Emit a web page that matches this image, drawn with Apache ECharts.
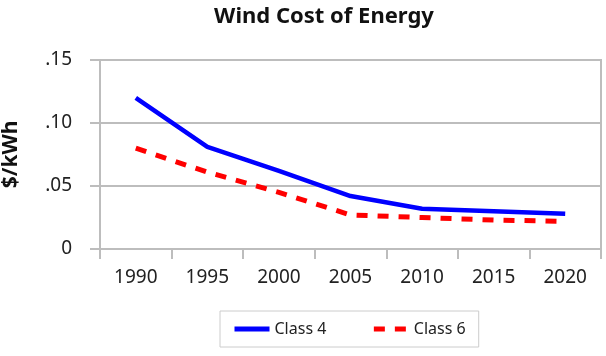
<!DOCTYPE html>
<html><head><meta charset="utf-8">
<script src="https://cdn.jsdelivr.net/npm/echarts@6/dist/echarts.min.js"></script>
<style>html,body{margin:0;padding:0;background:#fff}#c{width:606px;height:356px}</style>
</head><body><div id="c"></div>
<script>
const years = ['1990','1995','2000','2005','2010','2015','2020'];
const class4 = [0.120, 0.081, 0.062, 0.042, 0.032, 0.030, 0.028];
const class6 = [0.080, 0.061, 0.045, 0.027, 0.025, 0.023, 0.022];
const yTickLabels = {0:'0', 0.05:'.05', 0.1:'.10', 0.15:'.15'};

const chart = echarts.init(document.getElementById('c'));
const font = '"Noto Sans", "Open Sans", sans-serif';
const gray = '#bdbdbd';
chart.setOption({
  animation: false,
  title: {text: 'Wind Cost of Energy', left: 319, textAlign: 'center', top: 1,
    textStyle: {fontFamily: font, fontWeight: 'bold', fontSize: 22, color: '#111'}},
  grid: {left: 100, right: 5, top: 60, bottom: 107, show: true, borderColor: gray, borderWidth: 2,
    containLabel: false, outerBoundsMode: 'none'},
  xAxis: {type: 'category', data: years, boundaryGap: true,
    axisLine: {lineStyle: {color: gray, width: 2}},
    axisTick: {show: true, length: 10, interval: 0, lineStyle: {color: gray, width: 2}},
    axisLabel: {margin: 19, fontFamily: font, fontSize: 19, color: '#222'}},
  yAxis: {type: 'value', min: 0, max: 0.15, interval: 0.05,
    name: '$/kWh', nameLocation: 'middle', nameGap: 78,
    nameTextStyle: {fontFamily: font, fontWeight: 'bold', fontSize: 21, color: '#111'},
    axisLine: {show: true, lineStyle: {color: gray, width: 2}},
    axisTick: {show: true, length: 10, lineStyle: {color: gray, width: 2}},
    splitLine: {lineStyle: {color: gray, width: 2}},
    axisLabel: {margin: 28, fontFamily: font, fontSize: 19, color: '#222',
      formatter: v => yTickLabels[Math.round(v*100)/100] ?? ''}},
  legend: {bottom: 9, left: 220, width: 257, itemWidth: 35, itemHeight: 12, itemGap: 45,
    borderColor: '#ccc', borderWidth: 1, padding: [10, 13, 10, 12],
    itemStyle: {opacity: 0},
    lineStyle: {width: 5},
    textStyle: {fontFamily: font, fontSize: 16, color: '#222'}},
  series: [
    {name: 'Class 4', type: 'line', data: class4, symbol: 'none',
      lineStyle: {color: '#0000ff', width: 4.5}, itemStyle: {color: '#0000ff'}},
    {name: 'Class 6', type: 'line', data: class6, symbol: 'none',
      lineStyle: {color: '#ff0000', width: 5, type: [11, 10]}, itemStyle: {color: '#ff0000'}}
  ]
});
</script></body></html>
